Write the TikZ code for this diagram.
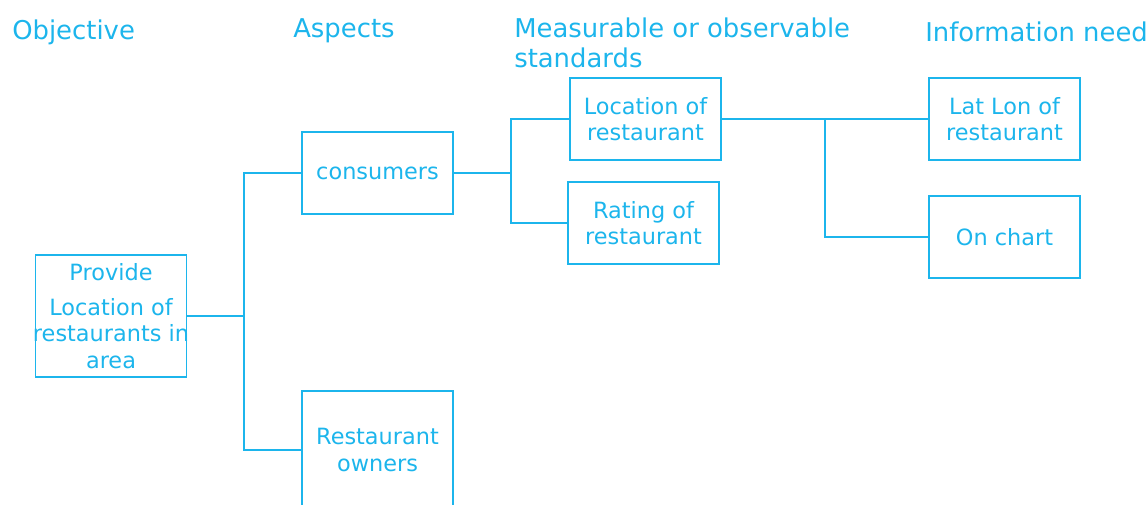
\documentclass[tikz,border=0pt]{standalone}
\usepackage{fontspec}
\setmainfont{DejaVu Sans}
\usetikzlibrary{positioning}
\definecolor{chartblue}{RGB}{28,181,236}

\begin{document}
\begin{tikzpicture}[x=0.75pt, y=-0.75pt,
		box/.style={draw=chartblue, line width=1.2pt, text=chartblue, align=center,
			minimum width=113pt, minimum height=61.5pt, inner sep=0pt,
			font=\fontsize{16.8}{20}\selectfont},
		heading/.style={text=chartblue, anchor=base west, inner sep=0pt, align=left,
			font=\fontsize{19.4}{22.5}\selectfont},
		link/.style={draw=chartblue, line width=1.2pt}]

		\useasboundingbox (0,0) rectangle (1148,505);
		\clip (0,0) rectangle (1148,505);

		% draw headings
		\node[heading] (hobj) at (12,40) {Objective};
		\node[heading] (hasp) at (293,38) {Aspects};
		\node[heading] (hstd) at (514,68) {Measurable or observable\\standards};
		\node[heading] (hinf) at (925,42) {Information need};

		% draw boxes
		\node[box, minimum height=91.5pt] (obj) at (111,316) {Provide\\[6pt]Location of\\\makebox[110pt]{restaurants in}\\area};
		\node[box] (cons) at (377.5,173) {consumers};
		\node[box, minimum height=88.5pt] (own) at (377.5,450) {Restaurant\\owners};
		\node[box] (loc) at (645.5,119) {Location of\\restaurant};
		\node[box] (rate) at (643.5,223) {Rating of\\restaurant};
		\node[box] (lat) at (1004.5,119) {Lat Lon of\\restaurant};
		\node[box] (chart) at (1004.5,237) {On chart};

		% draw junctions
		\coordinate (j1) at (244,316);
		\coordinate (j2) at (511,173);
		\coordinate (j3) at (825,119);

		% draw connectors
		\draw[link] (obj.east) -- (j1) |- (cons.west);
		\draw[link] (j1) |- (own.west);
		\draw[link] (cons.east) -- (j2) |- (loc.west);
		\draw[link] (j2) |- (rate.west);
		\draw[link] (loc.east) -- (lat.west);
		\draw[link] (j3) |- (chart.west);
	\end{tikzpicture}
\end{document}
